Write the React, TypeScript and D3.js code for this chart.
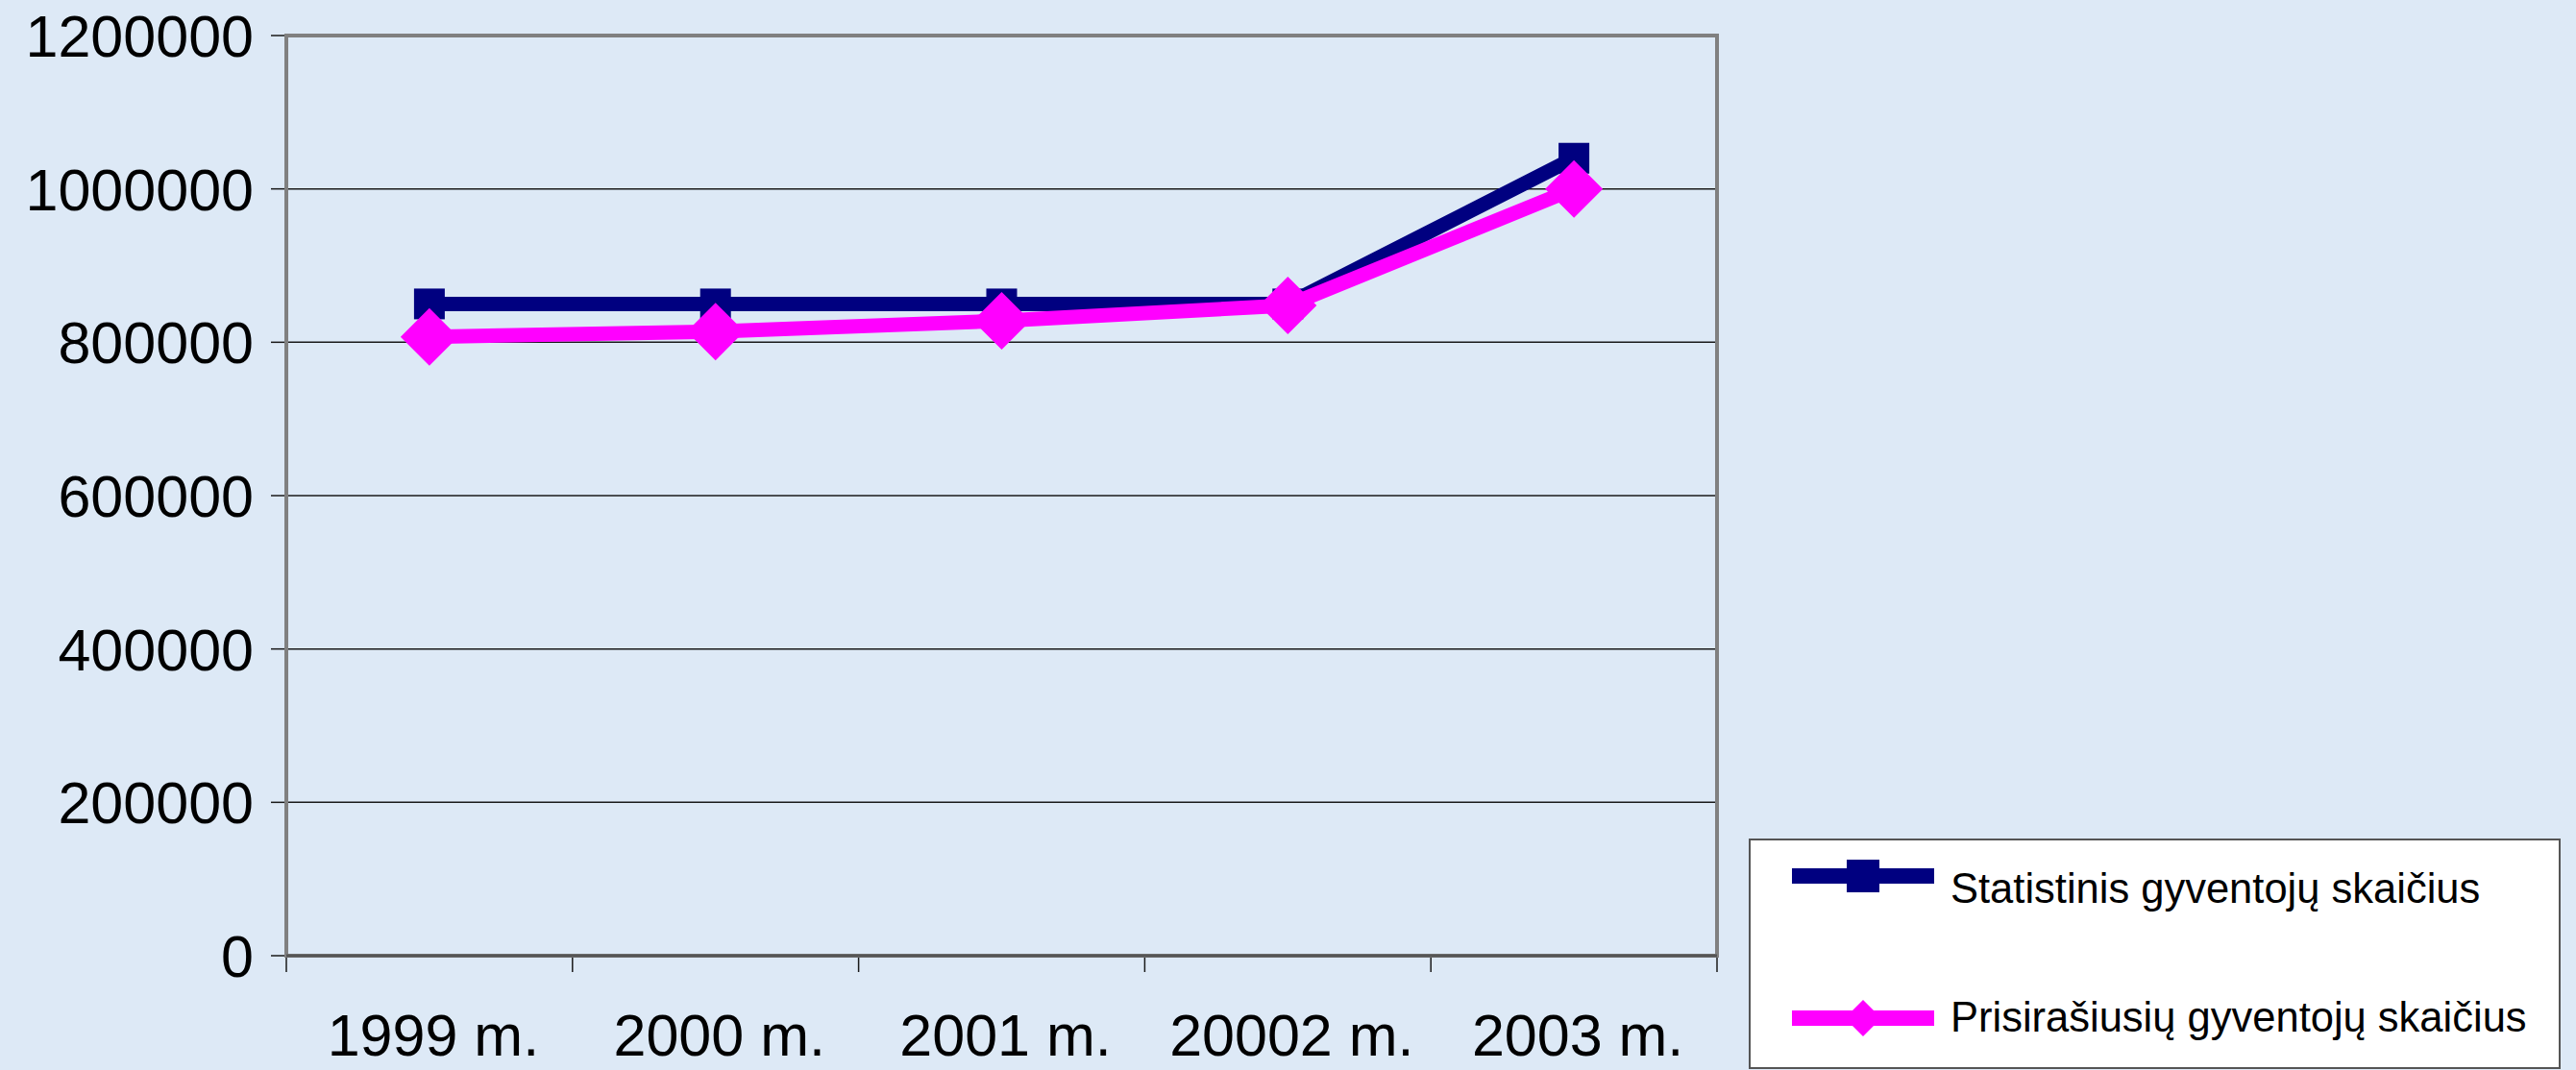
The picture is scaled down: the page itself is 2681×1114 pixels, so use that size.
import React from "react";
import * as d3 from "d3";

const categories = ["1999 m.", "2000 m.", "2001 m.", "20002 m.", "2003 m."];
const statistinis = [850000, 850000, 850000, 850000, 1040000];
const prisirasiusiu = [807000, 814000, 828000, 848000, 1000000];
const yTicks = [0, 200000, 400000, 600000, 800000, 1000000, 1200000];
const seriesNames = ["Statistinis gyventojų skaičius", "Prisirašiusių gyventojų skaičius"];

const W = 2681;
const H = 1114;
const plot = { left: 298, right: 1787, top: 37, bottom: 995 };
const NAVY = "#000080";
const MAGENTA = "#FF00FF";
const FONT = "'Liberation Sans', Arial, sans-serif";

export default function App() {
  const x = d3.scaleBand<string>().domain(categories).range([plot.left, plot.right]).padding(0);
  const y = d3.scaleLinear().domain([0, 1200000]).range([plot.bottom, plot.top]);
  const cx = (c: string) => (x(c) as number) + x.bandwidth() / 2;
  const line = d3
    .line<number>()
    .x((_, i) => cx(categories[i]))
    .y((d) => y(d));

  const sq = 32;
  const dia = 30;
  const diamond = (px: number, py: number, r: number) =>
    `M${px},${py - r}L${px + r},${py}L${px},${py + r}L${px - r},${py}Z`;

  const boundaries = categories.map((c) => x(c) as number).concat([plot.right]);

  const legend = { x: 1821, y: 874, w: 843, h: 238 };
  const legLine = { x1: 1865, x2: 2013 };
  const legMid = (legLine.x1 + legLine.x2) / 2;
  const legRows = [912, 1060];

  return (
    <svg
      width={W}
      height={H}
      style={{ position: "absolute", left: 0, top: 0, display: "block" }}
      fontFamily={FONT}
    >
      <rect x={0} y={0} width={W} height={H} fill="#dde9f6" />
      {yTicks.slice(1, -1).map((t) => (
        <line key={t} x1={plot.left} x2={plot.right} y1={y(t)} y2={y(t)} stroke="#1a1a1a" strokeWidth={1.5} />
      ))}
      {yTicks.map((t) => (
        <g key={"yt" + t}>
          <line x1={plot.left - 16} x2={plot.left} y1={y(t)} y2={y(t)} stroke="#1a1a1a" strokeWidth={1.5} />
          <text x={264} y={y(t)} dy="0.36em" textAnchor="end" fontSize={61} fill="#000">
            {t}
          </text>
        </g>
      ))}
      {boundaries.map((b, i) => (
        <line key={"xt" + i} x1={b} x2={b} y1={plot.bottom} y2={plot.bottom + 17} stroke="#1a1a1a" strokeWidth={1.5} />
      ))}
      <rect
        x={plot.left}
        y={plot.top}
        width={plot.right - plot.left}
        height={plot.bottom - plot.top}
        fill="none"
        stroke="#808080"
        strokeWidth={4}
      />
      <line x1={plot.left} x2={plot.right} y1={plot.bottom} y2={plot.bottom} stroke="#555" strokeWidth={3} />
      {categories.map((c) => (
        <text key={c} x={cx(c) + 4} y={1099} textAnchor="middle" fontSize={61} fill="#000">
          {c}
        </text>
      ))}
      <path d={line(statistinis) || ""} fill="none" stroke={NAVY} strokeWidth={15} strokeLinejoin="miter" />
      {statistinis.map((v, i) => (
        <rect key={"s" + i} x={cx(categories[i]) - sq / 2} y={y(v) - sq / 2} width={sq} height={sq} fill={NAVY} />
      ))}
      <path d={line(prisirasiusiu) || ""} fill="none" stroke={MAGENTA} strokeWidth={15} strokeLinejoin="miter" />
      {prisirasiusiu.map((v, i) => (
        <path key={"p" + i} d={diamond(cx(categories[i]), y(v), dia)} fill={MAGENTA} />
      ))}
      <rect x={legend.x} y={legend.y} width={legend.w} height={legend.h} fill="#ffffff" stroke="#555" strokeWidth={2} />
      <line x1={legLine.x1} x2={legLine.x2} y1={legRows[0]} y2={legRows[0]} stroke={NAVY} strokeWidth={16} />
      <rect x={legMid - 17} y={legRows[0] - 17} width={34} height={34} fill={NAVY} />
      <text x={2030} y={legRows[0] + 28} fontSize={43.5} fill="#000">
        {seriesNames[0]}
      </text>
      <line x1={legLine.x1} x2={legLine.x2} y1={legRows[1]} y2={legRows[1]} stroke={MAGENTA} strokeWidth={16} />
      <path d={diamond(legMid, legRows[1], 19)} fill={MAGENTA} />
      <text x={2030} y={legRows[1] + 14} fontSize={43.5} fill="#000">
        {seriesNames[1]}
      </text>
    </svg>
  );
}
